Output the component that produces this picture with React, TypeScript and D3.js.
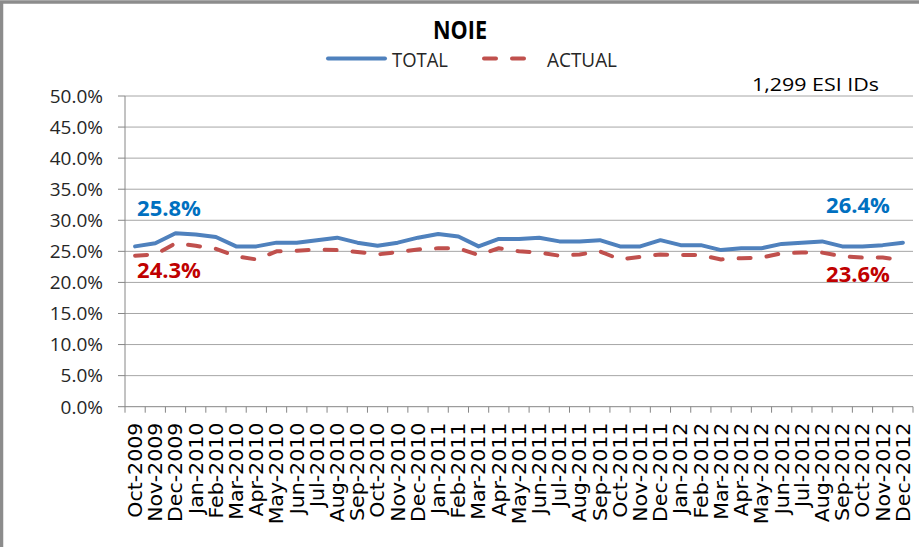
import React from "react";
import * as d3 from "d3";

const months = [
  "Oct-2009", "Nov-2009", "Dec-2009", "Jan-2010", "Feb-2010", "Mar-2010", "Apr-2010",
  "May-2010", "Jun-2010", "Jul-2010", "Aug-2010", "Sep-2010", "Oct-2010", "Nov-2010",
  "Dec-2010", "Jan-2011", "Feb-2011", "Mar-2011", "Apr-2011", "May-2011", "Jun-2011",
  "Jul-2011", "Aug-2011", "Sep-2011", "Oct-2011", "Nov-2011", "Dec-2011", "Jan-2012",
  "Feb-2012", "Mar-2012", "Apr-2012", "May-2012", "Jun-2012", "Jul-2012", "Aug-2012",
  "Sep-2012", "Oct-2012", "Nov-2012", "Dec-2012",
];

const total = [
  25.8, 26.3, 27.9, 27.7, 27.3, 25.8, 25.8, 26.4, 26.4, 26.8, 27.2, 26.4, 25.9,
  26.4, 27.2, 27.8, 27.4, 25.8, 27.0, 27.0, 27.2, 26.6, 26.6, 26.8, 25.8, 25.8,
  26.8, 26.0, 26.0, 25.2, 25.5, 25.5, 26.2, 26.4, 26.6, 25.8, 25.8, 26.0, 26.4,
];

const actual = [
  24.3, 24.5, 26.3, 25.9, 25.4, 24.2, 23.7, 25.0, 25.1, 25.3, 25.2, 24.9, 24.5,
  24.9, 25.3, 25.5, 25.5, 24.4, 25.5, 25.0, 24.8, 24.3, 24.5, 25.0, 23.7, 24.1,
  24.5, 24.4, 24.4, 23.7, 23.9, 24.0, 24.7, 24.8, 24.8, 24.2, 24.0, 24.0, 23.6,
];

const yTicks = [0, 5, 10, 15, 20, 25, 30, 35, 40, 45, 50];

const W = 919;
const H = 547;
const blue = "#4F81BD";
const red = "#C0504D";
const gridColor = "#A6A6A6";
const axisColor = "#868686";
const font = "'Open Sans', sans-serif";

export default function App() {
  const x = d3.scaleBand<string>().domain(months).range([125, 913]);
  const y = d3.scaleLinear().domain([0, 50]).range([406.7, 96]);
  const cx = (i: number) => (x(months[i]) ?? 0) + x.bandwidth() / 2;

  const line = d3
    .line<number>()
    .x((_, i) => cx(i))
    .y((d) => y(d));

  const last = months.length - 1;
  const pct = (v: number) => v.toFixed(1) + "%";

  return (
    <svg
      width={W}
      height={H}
      style={{ position: "absolute", left: 0, top: 0, background: "#fff" }}
    >
      <rect x={1.5} y={2} width={W + 10} height={H + 10} fill="#fff" stroke="#8c8c8c" strokeWidth={3.5} />

      {/* gridlines */}
      {yTicks.slice(1).map((t) => (
        <line key={t} x1={125} x2={913} y1={y(t)} y2={y(t)} stroke={gridColor} strokeWidth={1} />
      ))}

      {/* y axis */}
      <line x1={125} x2={125} y1={y(50)} y2={y(0)} stroke={axisColor} />
      {yTicks.map((t) => (
        <g key={t}>
          <line x1={118} x2={125} y1={y(t)} y2={y(t)} stroke={axisColor} />
          <text
            x={103}
            y={y(t)}
            dy="0.36em"
            textAnchor="end"
            fontFamily={font}
            fontSize={19}
            fill="#262626"
          >
            {t.toFixed(1) + "%"}
          </text>
        </g>
      ))}

      {/* x axis */}
      <line x1={125} x2={913} y1={y(0)} y2={y(0)} stroke={axisColor} />
      {months.concat([""]).map((m, i) => {
        const xx = i < months.length ? x(m) ?? 0 : 913;
        return <line key={"t" + i} x1={xx} x2={xx} y1={y(0)} y2={y(0) + 6} stroke={axisColor} />;
      })}
      {months.map((m, i) => (
        <text
          key={m}
          transform={`translate(${cx(i)},${y(0) + 16}) rotate(-90) scale(1.08,1)`}
          dy="0.36em"
          textAnchor="end"
          fontFamily="'DejaVu Sans', sans-serif"
          fontSize={19}
          fill="#000"
        >
          {m}
        </text>
      ))}

      {/* series */}
      <path d={line(total) ?? ""} fill="none" stroke={blue} strokeWidth={4} strokeLinejoin="round" strokeLinecap="round" />
      <path
        d={line(actual) ?? ""}
        fill="none"
        stroke={red}
        strokeWidth={4}
        strokeDasharray="12,16"
        strokeLinecap="round"
        strokeLinejoin="round"
      />

      {/* data labels */}
      <text x={cx(0) + 2} y={y(total[0]) - 30} fontFamily={font} fontWeight="bold" fontSize={22} fill="#0070C0">
        {pct(total[0])}
      </text>
      <text x={cx(0) + 2} y={y(actual[0]) + 22} fontFamily={font} fontWeight="bold" fontSize={22} fill="#C00000">
        {pct(actual[0])}
      </text>
      <text x={cx(last) - 13} y={y(total[last]) - 30} textAnchor="end" fontFamily={font} fontWeight="bold" fontSize={22} fill="#0070C0">
        {pct(total[last])}
      </text>
      <text x={cx(last) - 13} y={y(actual[last]) + 22} textAnchor="end" fontFamily={font} fontWeight="bold" fontSize={22} fill="#C00000">
        {pct(actual[last])}
      </text>

      {/* title */}
      <text x={460} y={39} textAnchor="middle" fontFamily={font} fontWeight="bold" fontSize={25} textLength={54} lengthAdjust="spacingAndGlyphs" fill="#000">
        NOIE
      </text>

      {/* legend */}
      <line x1={328} x2={385} y1={58.5} y2={58.5} stroke={blue} strokeWidth={4} strokeLinecap="round" />
      <text x={392} y={66.5} fontFamily={font} fontSize={20} textLength={56} lengthAdjust="spacingAndGlyphs" fill="#262626">
        TOTAL
      </text>
      <line x1={484} x2={528} y1={58.5} y2={58.5} stroke={red} strokeWidth={4} strokeDasharray="12,16" strokeLinecap="round" />
      <text x={547} y={66.5} fontFamily={font} fontSize={20} textLength={70} lengthAdjust="spacingAndGlyphs" fill="#262626">
        ACTUAL
      </text>

      {/* annotation */}
      <text x={752} y={91} fontFamily={font} fontSize={19} textLength={127} lengthAdjust="spacingAndGlyphs" fill="#000">
        1,299 ESI IDs
      </text>
    </svg>
  );
}
